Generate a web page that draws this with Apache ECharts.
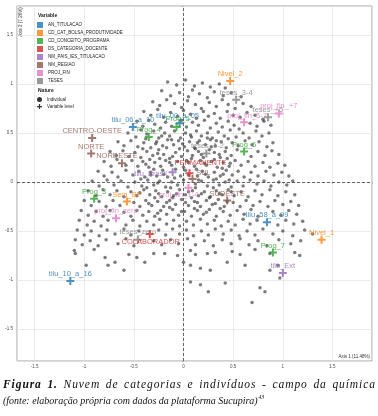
<!DOCTYPE html>
<html>
<head>
<meta charset="utf-8">
<script src="https://cdn.jsdelivr.net/npm/echarts@6.0.0/dist/echarts.min.js"></script>
<style>
html,body{margin:0;padding:0;background:#fff;}
#chart{width:378px;height:416px;}
</style>
</head>
<body>
<div id="chart"></div>
<script>
// individuos (nuvem de pontos), eixo 1 x eixo 2
const individuals = [
  [-0.16,1.02],[-0.07,0.99],[0.02,1.04],[0.11,0.98],[0.19,1.01],[0.27,0.97],[0.36,1.0],[0.42,0.96],
  [-0.22,0.93],[-0.13,0.88],[-0.04,0.91],[0.05,0.87],[0.09,0.94],[0.16,0.9],[0.24,0.86],[0.31,0.92],[0.4,0.88],[0.48,0.91],[0.58,0.87],
  [-0.31,0.82],[-0.24,0.78],[-0.17,0.84],[-0.09,0.8],[-0.02,0.76],[0.04,0.83],[0.12,0.79],[0.18,0.75],[0.26,0.81],[0.33,0.77],[0.39,0.84],[0.45,0.79],[0.52,0.75],[0.6,0.8],[0.68,0.77],
  [-0.4,0.72],[-0.33,0.68],[-0.26,0.74],[-0.2,0.66],[-0.13,0.71],[-0.06,0.67],[0.0,0.73],[0.07,0.69],[0.13,0.65],[0.2,0.72],[0.25,0.67],[0.31,0.7],[0.37,0.65],[0.44,0.72],[0.5,0.68],[0.57,0.66],[0.64,0.71],[0.72,0.68],[0.8,0.64],
  [-0.47,0.62],[-0.41,0.57],[-0.35,0.63],[-0.29,0.59],[-0.23,0.55],[-0.18,0.61],[-0.12,0.57],[-0.02,0.63],[0.03,0.56],[0.09,0.61],[0.15,0.58],[0.21,0.63],[0.27,0.55],[0.33,0.6],[0.39,0.56],[0.45,0.62],[0.51,0.58],[0.56,0.54],[0.67,0.6],[0.74,0.57],[0.81,0.62],[0.88,0.58],
  [-0.56,0.5],[-0.48,0.46],[-0.43,0.53],[-0.37,0.49],[-0.3,0.52],[-0.25,0.45],[-0.19,0.5],[-0.14,0.47],[-0.09,0.52],[-0.03,0.45],[0.02,0.5],[0.08,0.46],[0.13,0.52],[0.18,0.47],[0.24,0.5],[0.29,0.45],[0.35,0.51],[0.41,0.47],[0.47,0.53],[0.53,0.46],[0.6,0.5],[0.66,0.45],[0.73,0.52],[0.79,0.47],[0.86,0.5],
  [-0.66,0.41],[-0.6,0.37],[-0.53,0.42],[-0.46,0.36],[-0.4,0.4],[-0.33,0.35],[-0.27,0.41],[-0.21,0.37],[-0.16,0.43],[-0.1,0.38],[-0.05,0.42],[0.01,0.36],[0.06,0.41],[0.11,0.35],[0.16,0.42],[0.22,0.38],[0.27,0.43],[0.32,0.37],[0.38,0.41],[0.43,0.35],[0.49,0.4],[0.55,0.37],[0.62,0.42],[0.69,0.38],[0.76,0.41],[0.84,0.36],[0.9,0.4],
  [-0.74,0.31],[-0.68,0.27],[-0.61,0.32],[-0.55,0.26],[-0.49,0.3],[-0.43,0.25],[-0.37,0.31],[-0.31,0.27],[-0.25,0.33],[-0.2,0.28],[-0.14,0.24],[-0.08,0.3],[-0.02,0.26],[0.04,0.32],[0.09,0.27],[0.15,0.31],[0.2,0.25],[0.26,0.33],[0.31,0.3],[0.37,0.25],[0.42,0.31],[0.48,0.27],[0.54,0.33],[0.68,0.26],[0.75,0.31],[0.82,0.27],[0.89,0.32],[0.96,0.28],
  [-0.8,0.21],[-0.73,0.16],[-0.67,0.23],[-0.58,0.17],[-0.52,0.22],[-0.46,0.16],[-0.41,0.21],[-0.35,0.15],[-0.29,0.2],[-0.23,0.16],[-0.18,0.22],[-0.12,0.17],[-0.06,0.21],[0.0,0.15],[0.05,0.2],[0.11,0.16],[0.17,0.22],[0.23,0.17],[0.28,0.21],[0.34,0.15],[0.4,0.2],[0.46,0.16],[0.52,0.22],[0.58,0.17],[0.65,0.21],[0.72,0.16],[0.8,0.2],[0.87,0.15],[0.95,0.19],[1.02,0.17],
  [-0.86,0.11],[-0.8,0.06],[-0.72,0.1],[-0.66,0.05],[-0.58,0.12],[-0.51,0.07],[-0.45,0.11],[-0.39,0.05],[-0.33,0.1],[-0.27,0.06],[-0.21,0.12],[-0.16,0.05],[-0.03,0.06],[0.02,0.12],[0.14,0.06],[0.19,0.11],[0.25,0.05],[0.31,0.1],[0.37,0.06],[0.43,0.12],[0.49,0.07],[0.55,0.11],[0.61,0.05],[0.68,0.1],[0.75,0.06],[0.83,0.11],[0.91,0.07],[0.99,0.1],[1.06,0.06],
  [-0.92,0.01],[-0.85,-0.04],[-0.77,0.02],[-0.7,-0.03],[-0.63,0.01],[-0.56,-0.05],[-0.49,0.0],[-0.42,-0.04],[-0.36,0.02],[-0.3,-0.03],[-0.24,0.01],[-0.18,-0.05],[-0.12,0.0],[-0.06,-0.03],[0.0,0.02],[0.12,-0.02],[0.18,0.01],[0.24,-0.04],[0.3,0.02],[0.36,-0.03],[0.42,0.0],[0.48,-0.05],[0.54,0.01],[0.6,-0.04],[0.67,0.02],[0.74,-0.02],[0.81,0.01],[0.88,-0.04],[0.96,0.0],[1.04,-0.03],[1.1,0.01],
  [-0.96,-0.09],[-0.88,-0.14],[-0.81,-0.08],[-0.74,-0.13],[-0.67,-0.09],[-0.6,-0.15],[-0.53,-0.1],[-0.47,-0.14],[-0.4,-0.08],[-0.34,-0.13],[-0.28,-0.09],[-0.22,-0.15],[-0.16,-0.1],[-0.1,-0.14],[-0.04,-0.08],[0.02,-0.13],[0.09,-0.09],[0.15,-0.14],[0.21,-0.1],[0.27,-0.15],[0.33,-0.09],[0.39,-0.13],[0.45,-0.08],[0.51,-0.14],[0.58,-0.1],[0.65,-0.15],[0.72,-0.09],[0.79,-0.13],[0.87,-0.08],[0.95,-0.14],[1.03,-0.1],[1.12,-0.13],
  [-1.0,-0.19],[-0.93,-0.24],[-0.85,-0.2],[-0.78,-0.25],[-0.71,-0.19],[-0.64,-0.24],[-0.5,-0.21],[-0.44,-0.25],[-0.38,-0.19],[-0.32,-0.24],[-0.26,-0.2],[-0.2,-0.25],[-0.14,-0.19],[-0.08,-0.23],[-0.02,-0.18],[0.05,-0.24],[0.11,-0.2],[0.17,-0.25],[0.23,-0.19],[0.29,-0.23],[0.35,-0.18],[0.41,-0.25],[0.5,-0.21],[0.57,-0.25],[0.63,-0.19],[0.7,-0.24],[0.77,-0.2],[0.85,-0.25],[0.92,-0.19],[1.0,-0.23],[1.08,-0.2],[1.16,-0.24],
  [-1.03,-0.29],[-0.96,-0.34],[-0.88,-0.3],[-0.81,-0.35],[-0.74,-0.29],[-0.6,-0.31],[-0.53,-0.35],[-0.47,-0.29],[-0.41,-0.34],[-0.35,-0.3],[-0.29,-0.35],[-0.23,-0.29],[-0.17,-0.33],[-0.11,-0.28],[-0.05,-0.34],[0.01,-0.3],[0.08,-0.35],[0.14,-0.29],[0.2,-0.33],[0.26,-0.28],[0.33,-0.35],[0.4,-0.3],[0.47,-0.34],[0.54,-0.29],[0.61,-0.33],[0.68,-0.28],[0.75,-0.35],[0.9,-0.3],[0.98,-0.34],[1.06,-0.29],[1.14,-0.33],
  [-1.05,-0.39],[-0.97,-0.44],[-0.9,-0.4],[-0.83,-0.45],[-0.76,-0.39],[-0.58,-0.44],[-0.51,-0.39],[-0.44,-0.45],[-0.37,-0.4],[-0.3,-0.44],[-0.24,-0.38],[-0.17,-0.43],[-0.1,-0.39],[-0.04,-0.45],[0.03,-0.4],[0.1,-0.44],[0.17,-0.38],[0.24,-0.43],[0.31,-0.39],[0.38,-0.45],[0.45,-0.4],[0.52,-0.44],[0.6,-0.38],[0.67,-0.43],[0.74,-0.39],[0.95,-0.44],[1.03,-0.39],[1.11,-0.43],[1.2,-0.4],
  [-1.07,-0.49],[-1.0,-0.54],[-0.93,-0.5],[-0.85,-0.55],[-0.77,-0.49],[-0.69,-0.53],[-0.6,-0.48],[-0.53,-0.54],[-0.45,-0.5],[-0.25,-0.49],[-0.18,-0.54],[-0.11,-0.48],[-0.04,-0.53],[0.03,-0.49],[0.1,-0.55],[0.18,-0.5],[0.25,-0.54],[0.32,-0.48],[0.4,-0.53],[0.48,-0.49],[0.56,-0.55],[0.64,-0.5],[0.72,-0.54],[0.8,-0.48],[0.9,-0.53],[1.0,-0.5],[1.1,-0.55],[1.22,-0.49],[1.3,-0.53],
  [-1.09,-0.59],[-1.02,-0.64],[-0.94,-0.6],[-0.86,-0.65],[-0.78,-0.59],[-0.66,-0.63],[-0.58,-0.58],[-0.5,-0.65],[-0.3,-0.6],[-0.22,-0.64],[-0.13,-0.59],[-0.05,-0.63],[0.04,-0.58],[0.12,-0.64],[0.21,-0.6],[0.3,-0.65],[0.39,-0.59],[0.48,-0.63],[0.57,-0.58],[0.66,-0.64],[0.75,-0.6],[0.84,-0.65],[0.96,-0.59],[1.08,-0.63],[1.18,-0.6],
  [-1.1,-0.7],[-0.9,-0.69],[-0.55,-0.74],[-0.3,-0.73],[-0.06,-0.75],[0.07,-0.7],[0.12,-0.74],[0.24,-0.73],[0.32,-0.72],[0.49,-0.71],[0.57,-0.74],[0.72,-0.69],[0.87,-0.73],[1.12,-0.72],[1.17,-0.75],
  [-1.09,-0.73],[-0.79,-0.77],[-0.76,-0.85],[-0.69,-0.82],[-0.47,-0.77],[-0.39,-0.82],[-0.19,-0.73],[0.0,-0.82],[0.07,-0.85],[0.17,-0.88],[0.27,-0.9],[0.44,-0.82],[0.62,-0.85],
  [0.07,-1.02],[0.17,-1.05],[0.25,-1.12],[0.42,-1.03],[0.77,-1.08],[0.82,-1.12],[0.69,-1.23],[0.95,-0.85],[0.97,-0.98],[0.87,-0.9],[-0.6,-0.9],[-0.98,-0.85],
  [-0.38,0.44],[-0.28,0.39],[-0.22,0.47],[-0.12,0.43],[-0.01,0.39],[0.07,0.48],[0.14,0.4],[0.24,0.45],[0.33,0.42],[0.45,0.44],
  [-0.41,0.34],[-0.34,0.23],[-0.26,0.29],[-0.17,0.35],[-0.11,0.26],[-0.04,0.34],[0.03,0.22],[0.12,0.34],[0.18,0.28],[0.28,0.36],[0.36,0.28],[0.44,0.24],
  [-0.38,0.18],[-0.3,0.13],[-0.24,0.24],[-0.14,0.2],[-0.08,0.13],[0.08,0.24],[0.13,0.13],[0.21,0.19],[0.31,0.23],[0.39,0.14],[0.47,0.19],
  [-0.43,0.03],[-0.33,0.07],[-0.26,-0.01],[-0.2,0.08],[-0.09,0.04],[0.05,0.07],[0.15,0.02],[0.22,0.08],[0.33,0.03],[0.4,0.08],[0.46,0.02],
  [-0.44,-0.11],[-0.37,-0.06],[-0.25,-0.12],[-0.13,-0.06],[-0.07,-0.12],[0.05,-0.1],[0.12,-0.06],[0.18,-0.12],[0.3,-0.06],[0.36,-0.12],[0.48,-0.1],
  [-0.35,-0.22],[-0.29,-0.16],[-0.17,-0.21],[-0.11,-0.16],[0.02,-0.21],[0.08,-0.16],[0.14,-0.21],[0.26,-0.16],[0.32,-0.22],[0.44,-0.2],
  [-0.26,-0.32],[-0.14,-0.26],[-0.02,-0.3],[0.11,-0.27],[0.23,-0.31],[0.37,-0.27]
];

// modalidades (Variable level): [nome, eixo1, eixo2]
const titulacao = [['tilu_00_a_05',-0.04,0.60],['tilu_06_a_10',-0.51,0.56],['tilu_10_a_16',-1.14,-1.01],['tilu_58_a_99',0.84,-0.41]];
const bolsa = [['Nivel_1',1.39,-0.59],['Nivel_2',0.47,1.03],['Sem_BP',-0.57,-0.20]];
const conceito = [['Prog_3',-0.90,-0.17],['Prog_4',-0.35,0.46],['Prog_5',-0.07,0.56],['Prog_6',0.61,0.31],['Prog_7',0.90,-0.72]];
const categoria = [['PERMANENTE',0.06,0.09],['COLABORADOR',-0.34,-0.53]];
const pais = [['tilu_Brasil',-0.11,0.10],['tilu_Ext',1.00,-0.93]];
const regiao = [['CENTRO-OESTE',-0.92,0.45],['NORTE',-0.93,0.29],['NORDESTE',-0.62,0.19],['SUL',0.09,0.03],['SUDESTE',0.44,-0.19]];
const projFin = [['proj_fin_zero',-0.68,-0.37],['proj_fin_1-4',0.05,-0.06],['proj_fin_5-7',0.61,0.61],['proj_fin_+7',0.96,0.70]];
const teses = [['teses_zero',-0.46,-0.59],['teses_1-2',0.23,0.29],['teses_3-4',0.53,0.84],['teses_+5',0.85,0.66]];

const variables = ['AN_TITULACAO','CD_CAT_BOLSA_PRODUTIVIDADE','CD_CONCEITO_PROGRAMA','DS_CATEGORIA_DOCENTE','NM_PAIS_IES_TITULACAO','NM_REGIAO','PROJ_FIN','TESES'];
const levelSets = [titulacao, bolsa, conceito, categoria, pais, regiao, projFin, teses];
const tickValues = [-1.5,-1,-0.5,0,0.5,1,1.5];

const colors = ['#1f77b4','#ff7f0e','#2ca02c','#d62728','#9467bd','#8c564b','#e377c2','#7f7f7f'];
const cross = 'path://M3,0H5V3H8V5H5V8H3V5H0V3H3Z';
// deslocamento dos rotulos (px) quando nao ficam logo acima
const labelOffsets = {
  'tilu_Brasil':[-22,2], 'PERMANENTE':[11,-10], 'SUL':[11,-6], 'proj_fin_1-4':[-10,7],
  'COLABORADOR':[1,8], 'NORDESTE':[-5,-7], 'teses_zero':[0,-8], 'tilu_00_a_05':[-2,-7],
  'Prog_5':[1,-8], 'proj_fin_5-7':[3,-6], 'teses_1-2':[1,-8]
};

const sans = 'Liberation Sans';
const serif = 'Liberation Serif';

function tickFmt(v) {
  return tickValues.some(t => Math.abs(t - v) < 1e-6) ? String(v) : '';
}

const series = [{
  name: 'Individual',
  type: 'scatter',
  symbolSize: 3.5,
  itemStyle: {color: 'rgba(45,45,45,0.78)'},
  data: individuals,
  z: 2,
  markLine: {
    silent: true,
    symbol: ['none','none'],
    label: {show: false},
    lineStyle: {type: [3,2], color: '#444', width: 0.8},
    data: [{xAxis: 0}, {yAxis: 0}]
  }
}, {
  name: 'Variable level',
  type: 'scatter',
  symbol: cross,
  itemStyle: {color: '#000'},
  data: []
}];

levelSets.forEach((set, i) => {
  series.push({
    name: variables[i],
    type: 'scatter',
    symbol: cross,
    symbolSize: 8,
    z: 5,
    itemStyle: {color: colors[i]},
    label: {
      show: true, position: 'inside', formatter: '{b}',
      color: colors[i], fontSize: 7.5, fontFamily: sans
    },
    data: set.map(d => ({
      name: d[0],
      value: [d[1], d[2]],
      label: {offset: labelOffsets[d[0]] || [0,-7]}
    }))
  });
});

// legenda da figura, linha justificada
function justifiedLine(pieces, x0, x1, y) {
  const ctx = document.createElement('canvas').getContext('2d');
  const chars = [];
  pieces.forEach(p => {
    const font = p.style + ' ' + p.weight + ' ' + p.size + 'px "' + serif + '"';
    ctx.font = font;
    for (const ch of p.t) chars.push({ch, p, w: ctx.measureText(ch).width});
  });
  const natural = chars.reduce((s, c) => s + c.w, 0);
  let weights = 0;
  for (let i = 0; i < chars.length - 1; i++) weights += chars[i].ch === ' ' ? 3 : 1;
  const unit = (x1 - x0 - natural) / weights;
  let x = x0;
  const out = [];
  chars.forEach(c => {
    if (c.ch !== ' ') {
      out.push({type: 'text', x: x, y: y, style: {
        text: c.ch, fill: '#111', fontFamily: serif, fontSize: c.p.size,
        fontStyle: c.p.style, fontWeight: c.p.weight, verticalAlign: 'middle'
      }});
    }
    x += c.w + (c.ch === ' ' ? 3 : 1) * unit;
  });
  return out;
}

const caption1 = justifiedLine([
  {t: 'Figura 1.', style: 'italic', weight: 'bold', size: 11.5},
  {t: ' Nuvem de categorias e indivíduos - campo da química', style: 'italic', weight: 'normal', size: 11.5}
], 3, 375, 385);

const line2 = '(fonte: elaboração própria com dados da plataforma Sucupira)';
const mctx = document.createElement('canvas').getContext('2d');
mctx.font = 'italic 10px "' + serif + '"';
const line2W = mctx.measureText(line2).width;

const graphic = [
  {type: 'text', left: 38, top: 13, style: {text: 'Variable', fontFamily: sans, fontSize: 5, fontWeight: 'bold', fill: '#222'}},
  {type: 'text', left: 38, top: 88, style: {text: 'Nature', fontFamily: sans, fontSize: 5, fontWeight: 'bold', fill: '#222'}},
  {type: 'text', x: 21, y: 22, rotation: Math.PI / 2, style: {text: 'Axis 2 (7.26%)', fontFamily: sans, fontSize: 4.5, fill: '#333', align: 'center', verticalAlign: 'middle'}},
  {type: 'text', x: 370, y: 357, style: {text: 'Axis 1 (11.48%)', fontFamily: sans, fontSize: 4.5, fill: '#333', align: 'right', verticalAlign: 'middle'}},
  {type: 'text', x: 3, y: 401, style: {text: line2, fontFamily: serif, fontSize: 10, fontStyle: 'italic', fill: '#111', verticalAlign: 'middle'}},
  {type: 'text', x: 3 + line2W + 0.5, y: 397, style: {text: '43', fontFamily: serif, fontSize: 6, fontStyle: 'italic', fill: '#111', verticalAlign: 'middle'}}
].concat(caption1);

const axisCommon = {
  type: 'value',
  splitNumber: 7,
  minInterval: 0.5,
  maxInterval: 0.5,
  axisLine: {show: false},
  axisTick: {show: true, length: 2, lineStyle: {color: '#999', width: 0.6}},
  axisLabel: {fontSize: 4.5, color: '#4d4d4d', fontFamily: sans, formatter: tickFmt},
  splitLine: {show: true, lineStyle: {color: '#e3e3e3', width: 0.7}}
};

const chart = echarts.init(document.getElementById('chart'), null, {renderer: 'canvas'});
chart.setOption({
  animation: false,
  backgroundColor: '#fff',
  grid: {
    left: 17, right: 6, top: 6, bottom: 55,
    show: true, borderColor: '#8a8a8a', borderWidth: 0.8,
    containLabel: false, outerBoundsMode: 'none'
  },
  xAxis: Object.assign({}, axisCommon, {
    min: -1.677, max: 1.898,
    axisLabel: Object.assign({}, axisCommon.axisLabel, {margin: 3})
  }),
  yAxis: Object.assign({}, axisCommon, {
    min: -1.827, max: 1.796,
    axisLabel: Object.assign({}, axisCommon.axisLabel, {margin: 4})
  }),
  legend: [{
    data: variables,
    orient: 'vertical', left: 37, top: 22, padding: 0,
    itemWidth: 6, itemHeight: 6, itemGap: 2, icon: 'rect',
    selectedMode: false,
    textStyle: {fontSize: 4.5, color: '#222', fontFamily: sans}
  }, {
    data: [
      {name: 'Individual', icon: 'circle', itemStyle: {color: '#000'}},
      {name: 'Variable level', icon: cross, itemStyle: {color: '#000'}}
    ],
    orient: 'vertical', left: 37, top: 97, padding: 0,
    itemWidth: 5, itemHeight: 5, itemGap: 2,
    selectedMode: false,
    textStyle: {fontSize: 4.5, color: '#222', fontFamily: sans}
  }],
  graphic: graphic,
  series: series
});
</script>
</body>
</html>
